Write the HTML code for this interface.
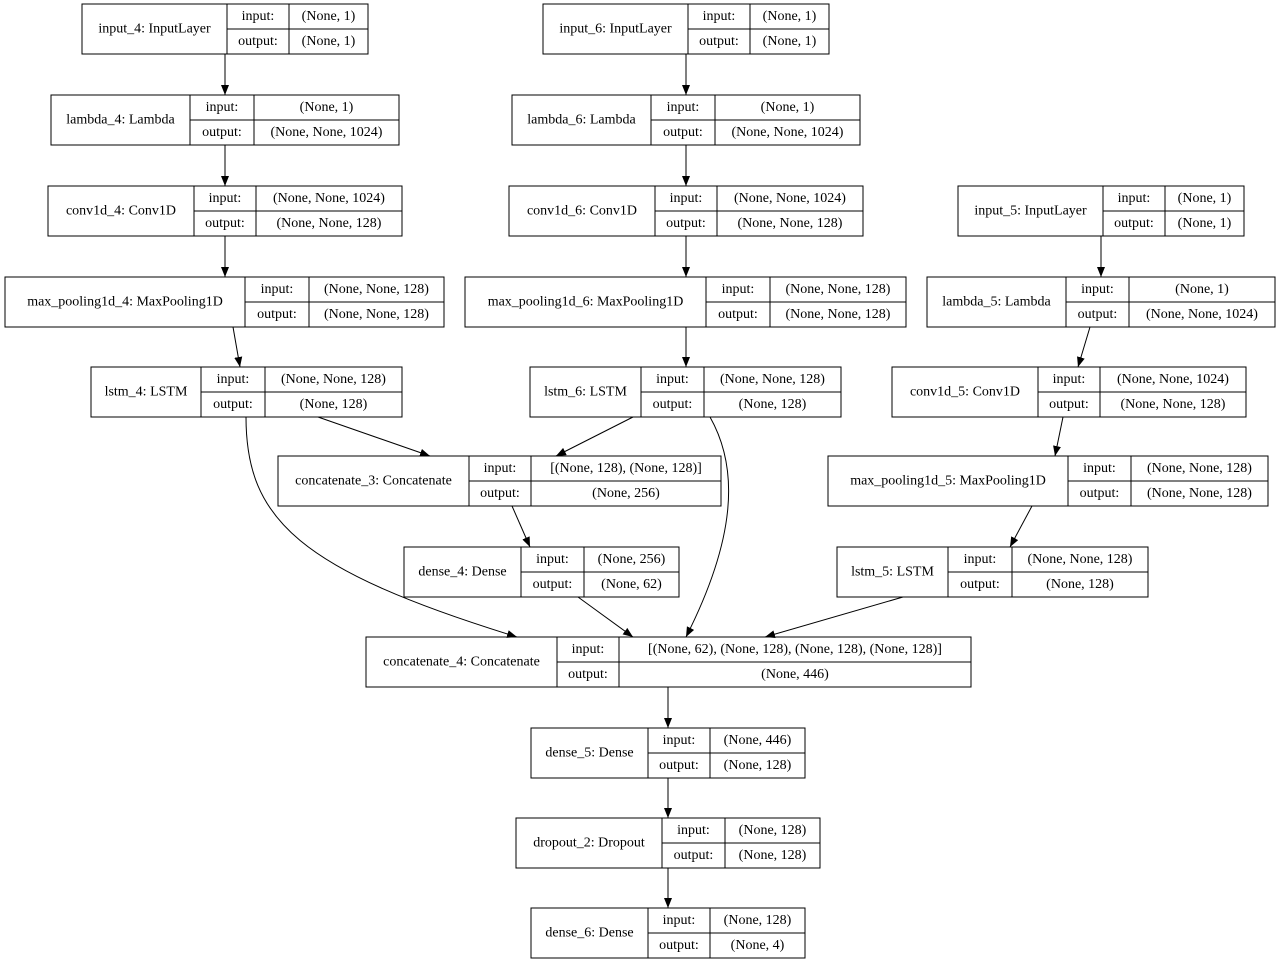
<!DOCTYPE html>
<html><head><meta charset="utf-8"><style>
html,body{margin:0;padding:0;background:#fff;}
svg{display:block;}
text{font-family:"Liberation Serif",serif;font-size:14px;fill:#000;text-anchor:middle;dominant-baseline:central;}
rect,line.b{fill:none;stroke:#000;stroke-width:1;}
.e{fill:none;stroke:#000;stroke-width:1;marker-end:url(#a);}
</style></head><body>
<svg width="1280" height="964" viewBox="0 0 1280 964">
<defs><marker id="a" markerWidth="10" markerHeight="8" refX="10" refY="4" orient="auto" markerUnits="userSpaceOnUse"><path d="M0,0 L10,4 L0,8 z" fill="#000"/></marker></defs>

<!-- edges -->
<path class="e" d="M225,54 L225,95"/>
<path class="e" d="M225,145 L225,186"/>
<path class="e" d="M225,236 L225,277"/>
<path class="e" d="M233,327 L240,367"/>
<path class="e" d="M318,417 L430,456"/>
<path class="e" d="M246,417 C246,520 300,570 517,637"/>
<path class="e" d="M686,54 L686,95"/>
<path class="e" d="M686,145 L686,186"/>
<path class="e" d="M686,236 L686,277"/>
<path class="e" d="M686,327 L686,367"/>
<path class="e" d="M633,417 L556,456"/>
<path class="e" d="M710,417 C740,470 735,540 686,637"/>
<path class="e" d="M512,506 L530,547"/>
<path class="e" d="M578,597 L633,637"/>
<path class="e" d="M903,597 L765,637"/>
<path class="e" d="M1101,236 L1101,277"/>
<path class="e" d="M1090,327 L1078,367"/>
<path class="e" d="M1063,417 L1055,456"/>
<path class="e" d="M1032,506 L1010,547"/>
<path class="e" d="M668,687 L668,728"/>
<path class="e" d="M668,778 L668,818"/>
<path class="e" d="M668,868 L668,908"/>

<!-- nodes -->
<g>
<rect x="82" y="4" width="286" height="50"/><line class="b" x1="227" y1="4" x2="227" y2="54"/><line class="b" x1="289" y1="4" x2="289" y2="54"/><line class="b" x1="227" y1="29" x2="368" y2="29"/>
<text x="154.5" y="29">input_4: InputLayer</text><text x="258" y="16.5">input:</text><text x="258" y="41.5">output:</text><text x="328.5" y="16.5">(None, 1)</text><text x="328.5" y="41.5">(None, 1)</text>

<rect x="51" y="95" width="348" height="50"/><line class="b" x1="190" y1="95" x2="190" y2="145"/><line class="b" x1="254" y1="95" x2="254" y2="145"/><line class="b" x1="190" y1="120" x2="399" y2="120"/>
<text x="120.5" y="120">lambda_4: Lambda</text><text x="222" y="107.5">input:</text><text x="222" y="132.5">output:</text><text x="326.5" y="107.5">(None, 1)</text><text x="326.5" y="132.5">(None, None, 1024)</text>

<rect x="48" y="186" width="354" height="50"/><line class="b" x1="194" y1="186" x2="194" y2="236"/><line class="b" x1="256" y1="186" x2="256" y2="236"/><line class="b" x1="194" y1="211" x2="402" y2="211"/>
<text x="121" y="211">conv1d_4: Conv1D</text><text x="225" y="198.5">input:</text><text x="225" y="223.5">output:</text><text x="329" y="198.5">(None, None, 1024)</text><text x="329" y="223.5">(None, None, 128)</text>

<rect x="5" y="277" width="439" height="50"/><line class="b" x1="245" y1="277" x2="245" y2="327"/><line class="b" x1="309" y1="277" x2="309" y2="327"/><line class="b" x1="245" y1="302" x2="444" y2="302"/>
<text x="125" y="302">max_pooling1d_4: MaxPooling1D</text><text x="277" y="289.5">input:</text><text x="277" y="314.5">output:</text><text x="376.5" y="289.5">(None, None, 128)</text><text x="376.5" y="314.5">(None, None, 128)</text>

<rect x="91" y="367" width="311" height="50"/><line class="b" x1="201" y1="367" x2="201" y2="417"/><line class="b" x1="265" y1="367" x2="265" y2="417"/><line class="b" x1="201" y1="392" x2="402" y2="392"/>
<text x="146" y="392">lstm_4: LSTM</text><text x="233" y="379.5">input:</text><text x="233" y="404.5">output:</text><text x="333.5" y="379.5">(None, None, 128)</text><text x="333.5" y="404.5">(None, 128)</text>

<rect x="543" y="4" width="286" height="50"/><line class="b" x1="688" y1="4" x2="688" y2="54"/><line class="b" x1="750" y1="4" x2="750" y2="54"/><line class="b" x1="688" y1="29" x2="829" y2="29"/>
<text x="615.5" y="29">input_6: InputLayer</text><text x="719" y="16.5">input:</text><text x="719" y="41.5">output:</text><text x="789.5" y="16.5">(None, 1)</text><text x="789.5" y="41.5">(None, 1)</text>

<rect x="512" y="95" width="348" height="50"/><line class="b" x1="651" y1="95" x2="651" y2="145"/><line class="b" x1="715" y1="95" x2="715" y2="145"/><line class="b" x1="651" y1="120" x2="860" y2="120"/>
<text x="581.5" y="120">lambda_6: Lambda</text><text x="683" y="107.5">input:</text><text x="683" y="132.5">output:</text><text x="787.5" y="107.5">(None, 1)</text><text x="787.5" y="132.5">(None, None, 1024)</text>

<rect x="509" y="186" width="354" height="50"/><line class="b" x1="655" y1="186" x2="655" y2="236"/><line class="b" x1="717" y1="186" x2="717" y2="236"/><line class="b" x1="655" y1="211" x2="863" y2="211"/>
<text x="582" y="211">conv1d_6: Conv1D</text><text x="686" y="198.5">input:</text><text x="686" y="223.5">output:</text><text x="790" y="198.5">(None, None, 1024)</text><text x="790" y="223.5">(None, None, 128)</text>

<rect x="465" y="277" width="441" height="50"/><line class="b" x1="706" y1="277" x2="706" y2="327"/><line class="b" x1="770" y1="277" x2="770" y2="327"/><line class="b" x1="706" y1="302" x2="906" y2="302"/>
<text x="585.5" y="302">max_pooling1d_6: MaxPooling1D</text><text x="738" y="289.5">input:</text><text x="738" y="314.5">output:</text><text x="838" y="289.5">(None, None, 128)</text><text x="838" y="314.5">(None, None, 128)</text>

<rect x="530" y="367" width="311" height="50"/><line class="b" x1="641" y1="367" x2="641" y2="417"/><line class="b" x1="704" y1="367" x2="704" y2="417"/><line class="b" x1="641" y1="392" x2="841" y2="392"/>
<text x="585.5" y="392">lstm_6: LSTM</text><text x="672.5" y="379.5">input:</text><text x="672.5" y="404.5">output:</text><text x="772.5" y="379.5">(None, None, 128)</text><text x="772.5" y="404.5">(None, 128)</text>

<rect x="958" y="186" width="286" height="50"/><line class="b" x1="1103" y1="186" x2="1103" y2="236"/><line class="b" x1="1165" y1="186" x2="1165" y2="236"/><line class="b" x1="1103" y1="211" x2="1244" y2="211"/>
<text x="1030.5" y="211">input_5: InputLayer</text><text x="1134" y="198.5">input:</text><text x="1134" y="223.5">output:</text><text x="1204.5" y="198.5">(None, 1)</text><text x="1204.5" y="223.5">(None, 1)</text>

<rect x="927" y="277" width="348" height="50"/><line class="b" x1="1066" y1="277" x2="1066" y2="327"/><line class="b" x1="1129" y1="277" x2="1129" y2="327"/><line class="b" x1="1066" y1="302" x2="1275" y2="302"/>
<text x="996.5" y="302">lambda_5: Lambda</text><text x="1097.5" y="289.5">input:</text><text x="1097.5" y="314.5">output:</text><text x="1202" y="289.5">(None, 1)</text><text x="1202" y="314.5">(None, None, 1024)</text>

<rect x="892" y="367" width="354" height="50"/><line class="b" x1="1038" y1="367" x2="1038" y2="417"/><line class="b" x1="1100" y1="367" x2="1100" y2="417"/><line class="b" x1="1038" y1="392" x2="1246" y2="392"/>
<text x="965" y="392">conv1d_5: Conv1D</text><text x="1069" y="379.5">input:</text><text x="1069" y="404.5">output:</text><text x="1173" y="379.5">(None, None, 1024)</text><text x="1173" y="404.5">(None, None, 128)</text>

<rect x="278" y="456" width="443" height="50"/><line class="b" x1="469" y1="456" x2="469" y2="506"/><line class="b" x1="531" y1="456" x2="531" y2="506"/><line class="b" x1="469" y1="481" x2="721" y2="481"/>
<text x="373.5" y="481">concatenate_3: Concatenate</text><text x="500" y="468.5">input:</text><text x="500" y="493.5">output:</text><text x="626" y="468.5">[(None, 128), (None, 128)]</text><text x="626" y="493.5">(None, 256)</text>

<rect x="828" y="456" width="440" height="50"/><line class="b" x1="1068" y1="456" x2="1068" y2="506"/><line class="b" x1="1131" y1="456" x2="1131" y2="506"/><line class="b" x1="1068" y1="481" x2="1268" y2="481"/>
<text x="948" y="481">max_pooling1d_5: MaxPooling1D</text><text x="1099.5" y="468.5">input:</text><text x="1099.5" y="493.5">output:</text><text x="1199.5" y="468.5">(None, None, 128)</text><text x="1199.5" y="493.5">(None, None, 128)</text>

<rect x="404" y="547" width="275" height="50"/><line class="b" x1="521" y1="547" x2="521" y2="597"/><line class="b" x1="584" y1="547" x2="584" y2="597"/><line class="b" x1="521" y1="572" x2="679" y2="572"/>
<text x="462.5" y="572">dense_4: Dense</text><text x="552.5" y="559.5">input:</text><text x="552.5" y="584.5">output:</text><text x="631.5" y="559.5">(None, 256)</text><text x="631.5" y="584.5">(None, 62)</text>

<rect x="837" y="547" width="311" height="50"/><line class="b" x1="948" y1="547" x2="948" y2="597"/><line class="b" x1="1012" y1="547" x2="1012" y2="597"/><line class="b" x1="948" y1="572" x2="1148" y2="572"/>
<text x="892.5" y="572">lstm_5: LSTM</text><text x="980" y="559.5">input:</text><text x="980" y="584.5">output:</text><text x="1080" y="559.5">(None, None, 128)</text><text x="1080" y="584.5">(None, 128)</text>

<rect x="366" y="637" width="605" height="50"/><line class="b" x1="557" y1="637" x2="557" y2="687"/><line class="b" x1="619" y1="637" x2="619" y2="687"/><line class="b" x1="557" y1="662" x2="971" y2="662"/>
<text x="461.5" y="662">concatenate_4: Concatenate</text><text x="588" y="649.5">input:</text><text x="588" y="674.5">output:</text><text x="795" y="649.5">[(None, 62), (None, 128), (None, 128), (None, 128)]</text><text x="795" y="674.5">(None, 446)</text>

<rect x="531" y="728" width="274" height="50"/><line class="b" x1="648" y1="728" x2="648" y2="778"/><line class="b" x1="710" y1="728" x2="710" y2="778"/><line class="b" x1="648" y1="753" x2="805" y2="753"/>
<text x="589.5" y="753">dense_5: Dense</text><text x="679" y="740.5">input:</text><text x="679" y="765.5">output:</text><text x="757.5" y="740.5">(None, 446)</text><text x="757.5" y="765.5">(None, 128)</text>

<rect x="516" y="818" width="304" height="50"/><line class="b" x1="662" y1="818" x2="662" y2="868"/><line class="b" x1="725" y1="818" x2="725" y2="868"/><line class="b" x1="662" y1="843" x2="820" y2="843"/>
<text x="589" y="843">dropout_2: Dropout</text><text x="693.5" y="830.5">input:</text><text x="693.5" y="855.5">output:</text><text x="772.5" y="830.5">(None, 128)</text><text x="772.5" y="855.5">(None, 128)</text>

<rect x="531" y="908" width="274" height="50"/><line class="b" x1="648" y1="908" x2="648" y2="958"/><line class="b" x1="710" y1="908" x2="710" y2="958"/><line class="b" x1="648" y1="933" x2="805" y2="933"/>
<text x="589.5" y="933">dense_6: Dense</text><text x="679" y="920.5">input:</text><text x="679" y="945.5">output:</text><text x="757.5" y="920.5">(None, 128)</text><text x="757.5" y="945.5">(None, 4)</text>
</g>
</svg>
</body></html>
